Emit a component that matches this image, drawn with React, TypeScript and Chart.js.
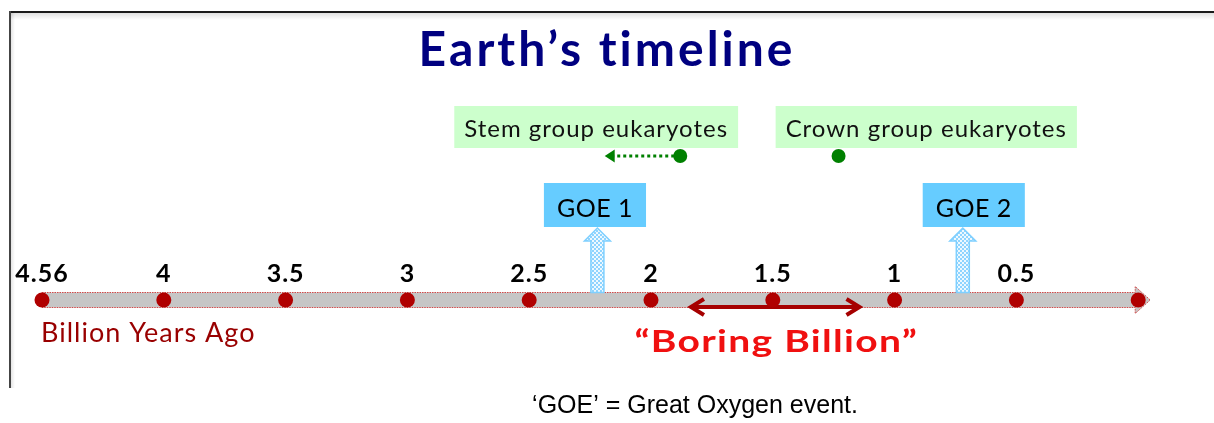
import React, { useEffect, useRef } from 'react';
import { Chart, registerables } from 'chart.js';

Chart.register(...registerables);

// ---- data ----
const pointAges = [4.56, 4, 3.5, 3, 2.5, 2, 1.5, 1, 0.5, 0];
const tickLabels = ['4.56', '4', '3.5', '3', '2.5', '2', '1.5', '1', '0.5', ''];
const goeLabels = ['GOE 1', 'GOE 2'];
const goeAges = [2.22, 0.72];
const goeLabelCentres = [2.23, 0.675];
const eukLabels = ['Stem group eukaryotes', 'Crown group eukaryotes'];
const eukAges = [1.88, 1.23];
const eukLabelCentres = [2.225, 0.87];
const stemArrowTo = 2.19;
const boringBillion = [1.84, 1.14];
const titleText = 'Earth’s timeline';
const axisTitle = 'Billion Years Ago';
const boringLabel = '“Boring Billion”';
const caption = '‘GOE’ = Great Oxygen event.';

// ---- layout ----
const W = 1214;
const H = 423;
const STEP = 121.8;
const FIRST = 42;
const X_MIN = -FIRST / STEP;
const X_MAX = X_MIN + W / STEP;
const EUK_ROW = 144;
const FONT = 'Lato, "Open Sans", sans-serif';

function gaToIndex(ga: number): number {
  for (let i = 0; i < pointAges.length - 1; i++) {
    const a = pointAges[i];
    const b = pointAges[i + 1];
    if (ga <= a && ga >= b) return i + (a - ga) / (a - b);
  }
  return ga > pointAges[0] ? 0 : pointAges.length - 1;
}

function makePattern(ctx: CanvasRenderingContext2D) {
  const c = document.createElement('canvas');
  c.width = 4;
  c.height = 4;
  const p = c.getContext('2d')!;
  p.fillStyle = '#8fd4ff';
  p.fillRect(0, 0, 4, 4);
  p.fillStyle = '#eef9ff';
  p.fillRect(0, 0, 2, 2);
  p.fillRect(2, 2, 2, 2);
  return ctx.createPattern(c, 'repeat');
}

function setSpacing(ctx: any, px: number) {
  if ('letterSpacing' in ctx) ctx.letterSpacing = `${px}px`;
}

// centred text, stretched horizontally by sx
function wideText(ctx: CanvasRenderingContext2D, text: string, cx: number, y: number, sx: number) {
  ctx.save();
  ctx.translate(cx, y);
  ctx.scale(sx, 1);
  ctx.textAlign = 'center';
  ctx.fillText(text, 0, 0);
  ctx.restore();
}

const annotations = {
  id: 'annotations',
  beforeDraw(chart: any) {
    const ctx: CanvasRenderingContext2D = chart.ctx;
    ctx.save();
    ctx.fillStyle = '#ffffff';
    ctx.fillRect(0, 0, chart.width, chart.height);
    const g = ctx.createLinearGradient(0, 13, 0, 20);
    g.addColorStop(0, 'rgba(0,0,0,0.12)');
    g.addColorStop(1, 'rgba(0,0,0,0)');
    ctx.fillStyle = g;
    ctx.fillRect(11, 13, chart.width - 11, 7);
    const g2 = ctx.createLinearGradient(11, 0, 15, 0);
    g2.addColorStop(0, 'rgba(0,0,0,0.10)');
    g2.addColorStop(1, 'rgba(0,0,0,0)');
    ctx.fillStyle = g2;
    ctx.fillRect(11, 13, 4, 375);
    ctx.fillStyle = '#1a1a1a';
    ctx.fillRect(9, 11, chart.width - 9, 2);
    ctx.fillStyle = '#444444';
    ctx.fillRect(9, 11, 2, 377);
    ctx.restore();
    // wider tracking for the title drawn by the title plugin
    setSpacing(ctx, 3);
  },
  beforeDatasetsDraw(chart: any) {
    const ctx: CanvasRenderingContext2D = chart.ctx;
    setSpacing(ctx, 0);
    const { x, y } = chart.scales;
    const y0 = y.getPixelForValue(0);
    const xs = x.getPixelForValue(0);
    const xe = x.getPixelForValue(pointAges.length - 1) - 3;
    const px = (ga: number) => x.getPixelForValue(gaToIndex(ga));
    ctx.save();

    // timeline bar with arrow head
    ctx.beginPath();
    ctx.moveTo(xs, y0 - 7.5);
    ctx.lineTo(xe, y0 - 7.5);
    ctx.lineTo(xe, y0 - 13.5);
    ctx.lineTo(xe + 15, y0);
    ctx.lineTo(xe, y0 + 13.5);
    ctx.lineTo(xe, y0 + 7.5);
    ctx.lineTo(xs, y0 + 7.5);
    ctx.closePath();
    ctx.fillStyle = '#c6c6c6';
    ctx.fill();
    ctx.setLineDash([1.5, 1]);
    ctx.strokeStyle = '#d04848';
    ctx.lineWidth = 1;
    ctx.stroke();
    ctx.setLineDash([]);

    // GOE block arrows
    const pat = makePattern(ctx);
    goeAges.forEach((ga) => {
      const ax = px(ga);
      ctx.beginPath();
      ctx.moveTo(ax - 6.5, y0 - 7.5);
      ctx.lineTo(ax - 6.5, y0 - 59);
      ctx.lineTo(ax - 13, y0 - 59);
      ctx.lineTo(ax, y0 - 72);
      ctx.lineTo(ax + 13, y0 - 59);
      ctx.lineTo(ax + 6.5, y0 - 59);
      ctx.lineTo(ax + 6.5, y0 - 7.5);
      ctx.closePath();
      ctx.fillStyle = pat || '#bfe9ff';
      ctx.fill();
      ctx.strokeStyle = '#7fd0ff';
      ctx.lineWidth = 1.5;
      ctx.stroke();
    });

    // Boring billion double arrow
    const b1 = px(boringBillion[0]);
    const b2 = px(boringBillion[1]);
    const yb = y0 + 7;
    ctx.strokeStyle = '#a60000';
    ctx.lineWidth = 4;
    ctx.lineJoin = 'miter';
    ctx.beginPath();
    ctx.moveTo(b1 + 2, yb);
    ctx.lineTo(b2 - 2, yb);
    ctx.stroke();
    ctx.beginPath();
    ctx.moveTo(b1 + 14, yb - 8);
    ctx.lineTo(b1 + 1, yb);
    ctx.lineTo(b1 + 14, yb + 8);
    ctx.moveTo(b2 - 14, yb - 8);
    ctx.lineTo(b2 - 1, yb);
    ctx.lineTo(b2 - 14, yb + 8);
    ctx.stroke();

    // stem group dotted arrow
    const sx = px(eukAges[0]);
    const tx = px(stemArrowTo);
    const ys = y.getPixelForValue(EUK_ROW);
    ctx.strokeStyle = '#008000';
    ctx.fillStyle = '#008000';
    ctx.lineWidth = 3;
    ctx.setLineDash([3, 3]);
    ctx.beginPath();
    ctx.moveTo(sx, ys);
    ctx.lineTo(tx + 8, ys);
    ctx.stroke();
    ctx.setLineDash([]);
    ctx.beginPath();
    ctx.moveTo(tx, ys);
    ctx.lineTo(tx + 10, ys - 6.5);
    ctx.lineTo(tx + 10, ys + 6.5);
    ctx.closePath();
    ctx.fill();
    ctx.restore();
  },
  afterDatasetsDraw(chart: any) {
    const ctx: CanvasRenderingContext2D = chart.ctx;
    const { x, y } = chart.scales;
    const y0 = y.getPixelForValue(0);
    const xs = x.getPixelForValue(0);
    const px = (ga: number) => x.getPixelForValue(gaToIndex(ga));
    ctx.save();
    ctx.textBaseline = 'alphabetic';

    // tick labels above the points
    ctx.font = `bold 25px ${FONT}`;
    ctx.fillStyle = '#000000';
    ctx.textAlign = 'center';
    setSpacing(ctx, 1);
    tickLabels.forEach((label, i) => {
      if (label) ctx.fillText(label, x.getPixelForValue(i), y0 - 18.5);
    });

    // axis title
    ctx.font = `27px ${FONT}`;
    ctx.fillStyle = '#990000';
    ctx.textAlign = 'left';
    setSpacing(ctx, 1);
    ctx.fillText(axisTitle, xs - 1, y0 + 42);

    // boring billion label
    ctx.font = `bold 30px ${FONT}`;
    ctx.fillStyle = '#f01010';
    setSpacing(ctx, 1);
    wideText(ctx, boringLabel, (px(boringBillion[0]) + px(boringBillion[1])) / 2 + 1, y0 + 52, 1.3);

    // GOE boxes
    ctx.font = `25px ${FONT}`;
    setSpacing(ctx, 0.5);
    goeLabels.forEach((label, i) => {
      const cx = px(goeLabelCentres[i]);
      const w = ctx.measureText(label).width + 26;
      ctx.fillStyle = '#66ccff';
      ctx.fillRect(cx - w / 2, y0 - 117, w, 44);
      ctx.fillStyle = '#000000';
      ctx.textAlign = 'center';
      ctx.fillText(label, cx, y0 - 83);
    });

    // eukaryote boxes
    ctx.font = `24px ${FONT}`;
    setSpacing(ctx, 1);
    eukLabels.forEach((label, i) => {
      const cx = px(eukLabelCentres[i]);
      const w = ctx.measureText(label).width + 20;
      ctx.fillStyle = '#ccffcc';
      ctx.fillRect(cx - w / 2, y0 - 194, w, 42);
      ctx.fillStyle = '#111111';
      ctx.textAlign = 'center';
      ctx.fillText(label, cx, y0 - 163);
    });

    // caption
    setSpacing(ctx, 0);
    ctx.font = '25px "Liberation Sans", Arial, sans-serif';
    ctx.fillStyle = '#000000';
    ctx.textAlign = 'center';
    ctx.fillText(caption, chart.width * 0.5725, chart.height - 10);
    ctx.restore();
  },
};

export default function App() {
  const ref = useRef<HTMLCanvasElement>(null);
  useEffect(() => {
    document.body.style.margin = '0';
    const chart = new Chart(ref.current!, {
      type: 'scatter',
      data: {
        datasets: [
          {
            label: 'Timeline',
            data: pointAges.map((_, i) => ({ x: i, y: 0 })),
            pointRadius: 7.5,
            pointBackgroundColor: '#b00000',
            pointBorderWidth: 0,
          },
          {
            label: 'Eukaryotes',
            data: eukAges.map((ga) => ({ x: gaToIndex(ga), y: EUK_ROW })),
            pointRadius: 7,
            pointBackgroundColor: '#008000',
            pointBorderWidth: 0,
          },
        ],
      },
      options: {
        responsive: false,
        animation: false,
        events: [],
        layout: { padding: 0, autoPadding: false },
        plugins: {
          legend: { display: false },
          tooltip: { enabled: false },
          title: {
            display: true,
            text: titleText,
            color: '#000080',
            font: { family: FONT, size: 48, weight: 'bold', lineHeight: 1.2 },
            padding: { top: 22, bottom: 20.4 },
          },
        },
        scales: {
          x: {
            type: 'linear',
            display: false,
            min: X_MIN,
            max: X_MAX,
          },
          y: {
            type: 'linear',
            display: false,
            min: -123,
            max: 200,
          },
        },
      } as any,
      plugins: [annotations],
    });
    return () => chart.destroy();
  }, []);
  return (
    <div style={{ width: W, height: H }}>
      <canvas ref={ref} width={W} height={H} style={{ display: 'block' }} />
    </div>
  );
}
